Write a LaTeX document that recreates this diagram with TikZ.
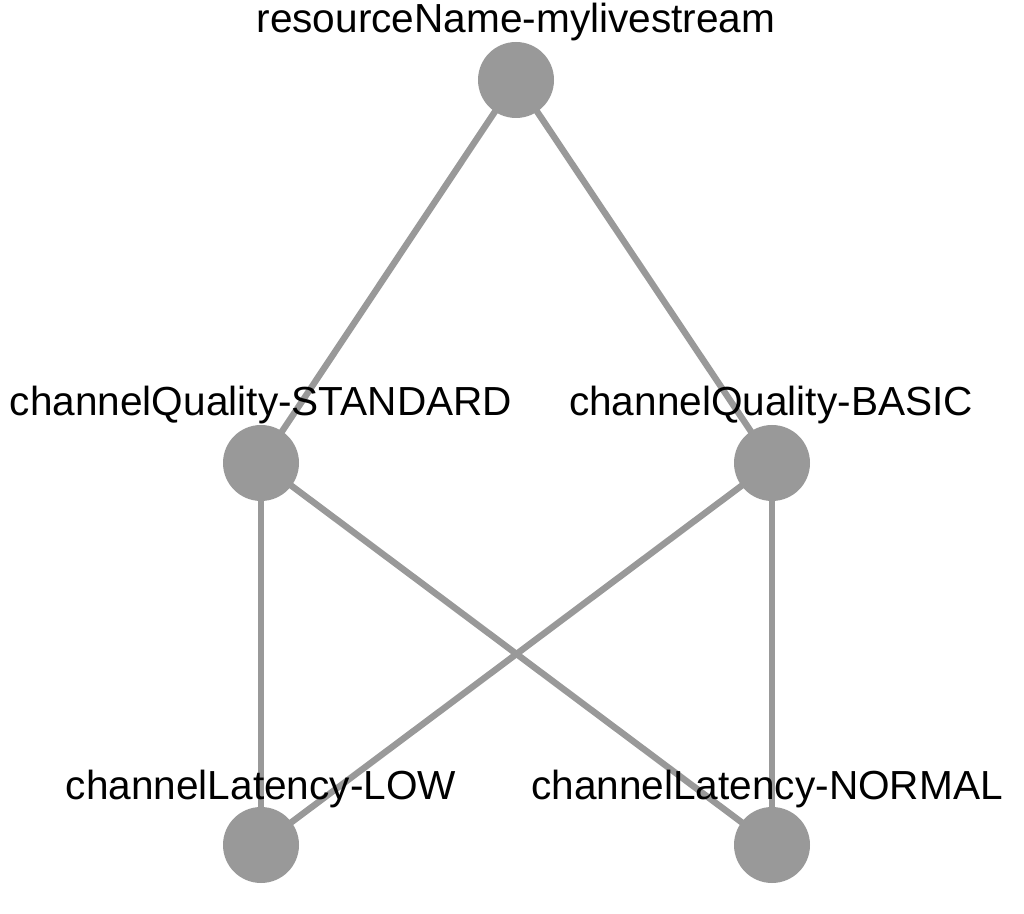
\documentclass[tikz,border=0pt]{standalone}
\usepackage{fontspec}
\setmainfont{Liberation Sans}
\definecolor{nodegray}{HTML}{999999}
\tikzset{
  vertex/.style={circle, fill=nodegray, minimum size=38pt, inner sep=0pt},
  link/.style={draw=nodegray, line width=3.2pt},
  vlabel/.style={anchor=base, font=\fontsize{20.3pt}{24pt}\selectfont, inner sep=0pt}
}
\begin{document}
\begin{tikzpicture}[x=0.5pt, y=-0.5pt]
        \useasboundingbox (0,0) rectangle (1024,914);
        % Vertices
        \node[vertex] (res) at (516,80) {};
        \node[vertex] (std) at (261,463) {};
        \node[vertex] (bas) at (772,463) {};
        \node[vertex] (low) at (261,845) {};
        \node[vertex] (nor) at (772,845) {};
        % Edges
        \foreach \a/\b in {res/std, res/bas, std/low, std/nor, bas/low, bas/nor} {
            \draw[link] (\a.center) -- (\b.center);
        }
        % Labels
        \node[vlabel] (resL) at (516,33) {resourceName-mylivestream};
        \node[vlabel] (stdL) at (261,416) {channelQuality-STANDARD};
        \node[vlabel] (basL) at (771,416) {channelQuality-BASIC};
        \node[vlabel] (lowL) at (261,799) {channelLatency-LOW};
        \node[vlabel] (norL) at (767,799) {channelLatency-NORMAL};
    \end{tikzpicture}
\end{document}
